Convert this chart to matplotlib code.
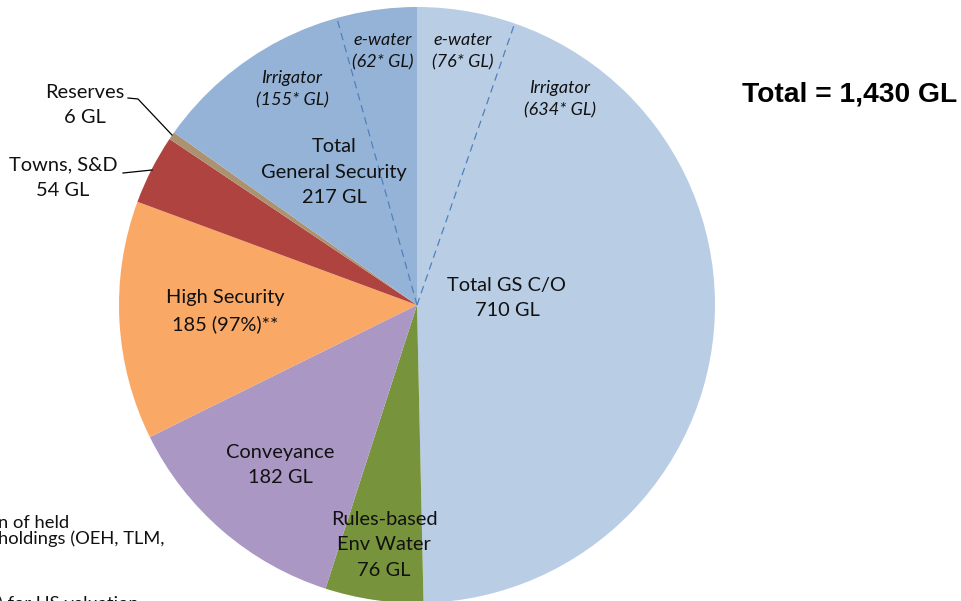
import matplotlib.pyplot as plt
import matplotlib as mpl
import numpy as np

mpl.rcParams['font.family'] = ['Lato', 'DejaVu Sans']

# slices, clockwise from 12 o'clock
labels = ['Total GS C/O\n710 GL', 'Rules-based\nEnv Water\n76 GL', 'Conveyance\n182 GL',
          'High Security\n185 (97%)**', 'Towns, S&D\n54 GL', 'Reserves\n6 GL',
          'Total\nGeneral Security\n217 GL']
values = [710, 76, 182, 185, 54, 6, 217]
colors = ['#B9CDE5', '#77933C', '#AA97C3', '#F9A866', '#AE4340', '#AD9272', '#95B3D7']

# sub-splits of the two general security slices
gs_co_ewater = 76
gs_co_irrigator = 634
gs_ewater = 62
gs_irrigator = 155
total = sum(values)

W, H = 962, 601
fig = plt.figure(figsize=(W / 100, H / 100), dpi=100)
ax = fig.add_axes([0, 0, 1, 1])

cx, cy, r = 417, H - 305, 298
ax.pie(values, colors=colors, startangle=90, counterclock=False,
       center=(cx, cy), radius=r, wedgeprops=dict(linewidth=0), frame=True)
ax.set_xlim(0, W)
ax.set_ylim(0, H)
ax.set_aspect('equal')
ax.axis('off')

for ang in [90 - gs_co_ewater / total * 360, 90 + gs_ewater / total * 360]:
    a = np.deg2rad(ang)
    ax.plot([cx, cx + r * np.cos(a)], [cy, cy + r * np.sin(a)],
            color='#4F81BD', lw=0.9, ls=(0, (6, 4)))


def t(x, y, s, **kw):
    kw.setdefault('fontsize', 14.4)
    kw.setdefault('linespacing', 1.6)
    ax.text(x, H - y, s, ha='center', va='center', color='#111111', **kw)


t(507, 298, labels[0])
t(384, 545, labels[1])
t(280, 465, labels[2])
t(225, 311, labels[3])
t(63, 178, labels[4])
t(85, 105, labels[5])
t(334, 172, labels[6])

it = dict(fontsize=13, style='italic', linespacing=1.45)
t(292, 89, 'Irrigator\n(%d* GL)' % gs_irrigator, **it)
t(383, 51, 'e-water\n(%d* GL)' % gs_ewater, **it)
t(463, 51, 'e-water\n(%d* GL)' % gs_co_ewater, **it)
t(560, 99, 'Irrigator\n(%d* GL)' % gs_co_irrigator, **it)

# leader lines
ax.plot([123, 152], [H - 173, H - 170], color='black', lw=0.9)
ax.plot([128, 138, 172], [H - 98, H - 99, H - 135], color='black', lw=0.9)

ax.text(850, H - 94, 'Total = 1,430 GL', ha='center', va='center',
        fontsize=20.3, fontweight='bold', family='Liberation Sans')

# footnote, cut off at the left and bottom edges as in the source
ax.text(-2, H - 531, 'n of held\nholdings (OEH, TLM,', ha='left', va='center',
        fontsize=13.2, linespacing=0.95, color='#111111')
ax.text(-2, H - 604, ') for HS valuation', ha='left', va='center',
        fontsize=13.2, color='#111111')

fig.savefig('out.png', dpi=100)
